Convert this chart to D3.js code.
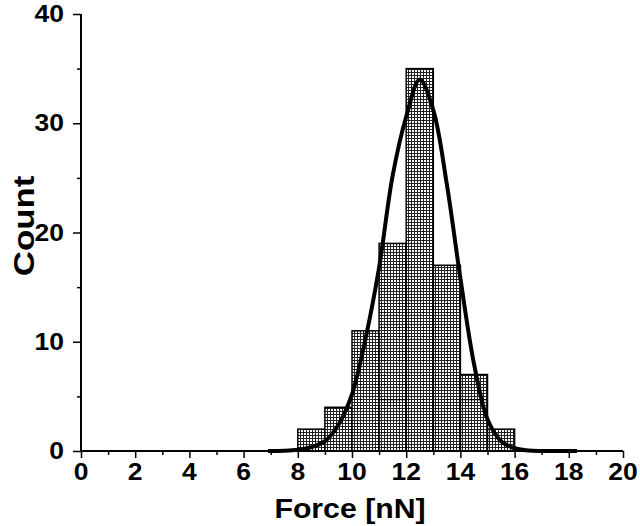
<!DOCTYPE html>
<html>
<head>
<meta charset="utf-8">
<script src="https://cdn.jsdelivr.net/npm/d3@7"></script>
<style>
  body { margin: 0; background: #fff; }
  svg { display: block; }
  text { font-family: "Liberation Sans", Arial, sans-serif; font-weight: bold; fill: #000; }
</style>
</head>
<body>
<div id="chart"></div>
<script>
// histogram bins (left edge, width 1 nN) and counts
var binStarts = [8, 9, 10, 11, 12, 13, 14, 15];
var counts = [2, 4, 11, 19, 35, 17, 7, 2];

// second (hidden) histogram showing through in two bins
var innerBins = [11, 14];
var innerCounts = [4.7, 4.7];

// gaussian fit curve
var fitX = [6.9, 7.5, 8, 8.5, 9, 9.5, 10, 10.5, 11, 11.5, 12, 12.5, 13, 13.5, 14, 14.5, 15, 15.5, 16, 16.5, 17, 18.3];
var fitY = [0, 0.03, 0.12, 0.35, 0.9, 2.4, 5.2, 10.3, 16.8, 25.2, 30.6, 34.0, 31.2, 24.4, 15.8, 8.0, 2.9, 0.9, 0.25, 0.05, 0, 0];

var xMajor = [0, 2, 4, 6, 8, 10, 12, 14, 16, 18, 20];
var yMajor = [0, 10, 20, 30, 40];

var W = 640, H = 526;
var x = d3.scaleLinear().domain([0, 20]).range([81, 623]);
var y = d3.scaleLinear().domain([0, 40]).range([451, 14]);

var svg = d3.select("#chart").append("svg")
    .attr("width", W)
    .attr("height", H);

// fine grid hatch used by the bars
var pat = svg.append("defs").append("pattern")
    .attr("id", "grid")
    .attr("patternUnits", "userSpaceOnUse")
    .attr("width", 3)
    .attr("height", 3);
pat.append("rect").attr("width", 3).attr("height", 3).attr("fill", "#fff");
pat.append("rect").attr("width", 3).attr("height", 1).attr("fill", "#222");
pat.append("rect").attr("width", 1).attr("height", 3).attr("fill", "#222");

// bars
svg.append("g")
    .selectAll("rect")
    .data(binStarts)
    .enter()
    .append("rect")
    .attr("x", function (d) { return x(d); })
    .attr("y", function (d, i) { return y(counts[i]); })
    .attr("width", function (d) { return x(d + 1) - x(d); })
    .attr("height", function (d, i) { return y(0) - y(counts[i]); })
    .attr("fill", "url(#grid)")
    .attr("stroke", "#000")
    .attr("stroke-width", 1.5);

svg.append("g")
    .selectAll("line")
    .data(innerBins)
    .enter()
    .append("line")
    .attr("x1", function (d) { return x(d); })
    .attr("x2", function (d) { return x(d + 1); })
    .attr("y1", function (d, i) { return y(innerCounts[i]); })
    .attr("y2", function (d, i) { return y(innerCounts[i]); })
    .attr("stroke", "#000")
    .attr("stroke-width", 1.2);

// fit curve
var line = d3.line()
    .x(function (d) { return x(d[0]); })
    .y(function (d) { return y(d[1]); })
    .curve(d3.curveCatmullRom.alpha(0.5));

svg.append("path")
    .datum(d3.zip(fitX, fitY))
    .attr("d", line)
    .attr("fill", "none")
    .attr("stroke", "#000")
    .attr("stroke-width", 4)
    .attr("stroke-linejoin", "round");

// x axis
var xAxis = svg.append("g").attr("transform", "translate(0," + y(0) + ")");
xAxis.call(d3.axisBottom(x).ticks(20).tickSize(4).tickFormat(""))
xAxis.call(function (g) {
    g.select(".domain").attr("d", "M" + x(0) + ",0H" + x(20)).attr("stroke-width", 2);
    g.selectAll(".tick line").attr("stroke-width", 1.5);
    g.selectAll(".tick").filter(function (d) { return xMajor.indexOf(d) >= 0; })
        .select("line").attr("y2", 7);
});

svg.append("g")
    .selectAll("text")
    .data(xMajor)
    .enter()
    .append("text")
    .attr("transform", function (d) { return "translate(" + x(d) + ",480) scale(1.15,1)"; })
    .attr("text-anchor", "middle")
    .style("font-size", "23px")
    .text(function (d) { return d; });

// y axis
var yAxis = svg.append("g").attr("transform", "translate(" + x(0) + ",0)");
yAxis.call(d3.axisLeft(y).ticks(8).tickSize(4).tickFormat(""));
yAxis.call(function (g) {
    g.select(".domain").attr("d", "M0," + y(0) + "V" + y(40)).attr("stroke-width", 2);
    g.selectAll(".tick line").attr("stroke-width", 1.5);
    g.selectAll(".tick").filter(function (d) { return yMajor.indexOf(d) >= 0; })
        .select("line").attr("x2", -8);
});

svg.append("g")
    .selectAll("text")
    .data(yMajor)
    .enter()
    .append("text")
    .attr("transform", function (d) { return "translate(64," + (y(d) + 8) + ") scale(1.15,1)"; })
    .attr("text-anchor", "end")
    .style("font-size", "23px")
    .text(function (d) { return d; });

// axis titles
svg.append("text")
    .attr("transform", "translate(350,518) scale(1.12,1)")
    .attr("text-anchor", "middle")
    .style("font-size", "27px")
    .text("Force [nN]");

svg.append("text")
    .attr("transform", "translate(34,226) rotate(-90) scale(1.2,1)")
    .attr("text-anchor", "middle")
    .style("font-size", "29px")
    .text("Count");
</script>
</body>
</html>
